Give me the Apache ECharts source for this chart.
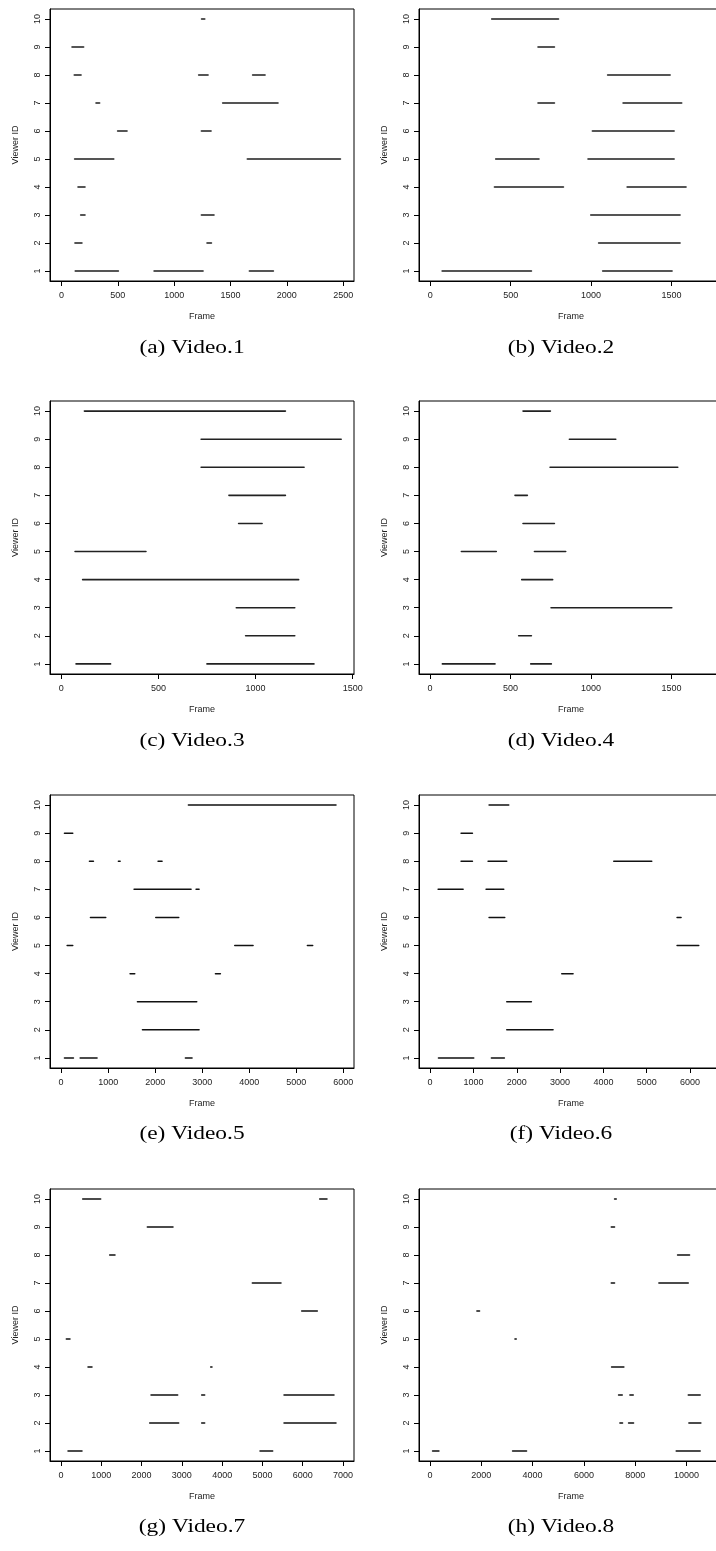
<!DOCTYPE html>
<html><head><meta charset="utf-8">
<script src="https://cdn.jsdelivr.net/npm/echarts@6/dist/echarts.min.js"></script>
<style>html,body{margin:0;padding:0;background:#fff}#c{width:716px;height:1551px}</style>
</head><body><div id="c"></div>
<script>
// Segments: [viewerId, startFrame, endFrame]
const video1 = [[10,1245,1270],[9,95,195],[8,115,172],[8,1219,1299],[8,1698,1805],[7,308,337],[7,1432,1920],[6,500,580],[6,1243,1326],[5,118,462],[5,1651,2474],[4,148,207],[3,172,207],[3,1243,1352],[2,121,180],[2,1293,1329],[1,124,503],[1,823,1255],[1,1669,1879]];
const video2 = [[10,383,796],[9,671,771],[8,1104,1490],[7,671,771],[7,1200,1562],[6,1009,1515],[5,408,675],[5,982,1515],[4,400,827],[4,1225,1589],[3,999,1552],[2,1048,1552],[1,75,628],[1,1073,1502]];
const video3 = [[10,119,1154],[9,720,1441],[8,720,1250],[7,863,1154],[6,913,1034],[5,71,436],[4,110,1222],[3,901,1202],[2,949,1202],[1,76,254],[1,750,1301]];
const video4 = [[10,578,748],[9,866,1154],[8,746,1539],[7,528,605],[6,578,773],[5,195,412],[5,649,843],[4,570,762],[3,752,1502],[2,551,630],[1,77,404],[1,626,754]];
const video5 = [[10,2706,5844],[9,71,248],[8,602,687],[8,1218,1254],[8,2061,2146],[7,1551,2763],[7,2869,2933],[6,623,949],[6,2012,2501],[5,128,248],[5,3691,4080],[5,5235,5348],[4,1466,1566],[4,3280,3386],[3,1622,2883],[2,1729,2933],[1,71,262],[1,404,765],[1,2642,2784]];
const video6 = [[10,1361,1815],[9,715,977],[8,715,977],[8,1338,1769],[8,4238,5115],[7,185,762],[7,1292,1700],[6,1361,1723],[6,5700,5792],[5,5700,6200],[4,3038,3300],[3,1769,2338],[2,1769,2838],[1,192,1008],[1,1415,1715]];
const video7 = [[10,538,985],[10,6421,6603],[9,2143,2780],[8,1208,1340],[7,4749,5461],[6,5974,6363],[5,132,223],[4,670,769],[4,3715,3748],[3,2234,2896],[3,3492,3566],[3,5535,6776],[2,2201,2921],[2,3492,3566],[2,5535,6826],[1,174,521],[1,4940,5254]];
const video8 = [[10,7195,7260],[9,7065,7195],[8,9649,10117],[7,7065,7195],[7,8922,10065],[6,1831,1935],[5,3312,3364],[4,7078,7558],[3,7351,7494],[3,7792,7922],[3,10065,10532],[2,7403,7506],[2,7740,7935],[2,10091,10558],[1,104,351],[1,3221,3766],[1,9597,10532]];

const captions = ['(a) Video.1','(b) Video.2','(c) Video.3','(d) Video.4','(e) Video.5','(f) Video.6','(g) Video.7','(h) Video.8'];
const xTicks1 = [0,500,1000,1500,2000,2500];
const xTicks2 = [0,500,1000,1500];
const xTicks3 = [0,500,1000,1500];
const xTicks4 = [0,500,1000,1500];
const xTicks5 = [0,1000,2000,3000,4000,5000,6000];
const xTicks6 = [0,1000,2000,3000,4000,5000,6000];
const xTicks7 = [0,1000,2000,3000,4000,5000,6000,7000];
const xTicks8 = [0,2000,4000,6000,8000,10000];
const viewerTicks = [1,2,3,4,5,6,7,8,9,10];

const videos = [video1,video2,video3,video4,video5,video6,video7,video8];
const xTicks = [xTicks1,xTicks2,xTicks3,xTicks4,xTicks5,xTicks6,xTicks7,xTicks8];
const xRange = [[-102,2596],[-70,1820],[-58,1507],[-68,1820],[-236,6226],[-256,6760],[-273,7273],[-425,11420]];

const rowTop = [9, 401, 795, 1189];
const rowH = [272, 273, 273, 272];
const colLeft = [50, 419];
const captionY = [348, 741, 1134, 1527];
const captionX = [192, 561];
const lineColor = ['#555','#555','#222','#222','#111','#111','#111','#111'];
const lineW = [2,2,1.6,1.6,1.5,1.5,1.5,1.5];

const sans = 'Liberation Sans';
const plain = v => String(v);
const grids=[], xAxes=[], yAxes=[], series=[], graphics=[];
for (let i=0;i<8;i++){
  const r = Math.floor(i/2), c = i%2;
  grids.push({left:colLeft[c], top:rowTop[r], width:304, height:rowH[r], show:true, borderColor:'#000', borderWidth:1, outerBoundsMode:'none', containLabel:false});
  xAxes.push({gridIndex:i, type:'value', min:xRange[i][0], max:xRange[i][1],
    axisLine:{show:true, onZero:false, lineStyle:{color:'#000', width:1}}, splitLine:{show:false},
    axisTick:{show:true, length:5, customValues:xTicks[i], lineStyle:{color:'#000', width:1}},
    axisLabel:{customValues:xTicks[i], formatter:plain, margin:10, fontSize:9, color:'#222', fontFamily:sans},
    name:'Frame', nameLocation:'middle', nameGap:31, nameTextStyle:{fontSize:9, color:'#222', fontFamily:sans}});
  yAxes.push({gridIndex:i, type:'value', min:0.64, max:10.36,
    axisLine:{show:true, onZero:false, lineStyle:{color:'#000', width:1}}, splitLine:{show:false},
    axisTick:{show:true, length:5, customValues:viewerTicks, lineStyle:{color:'#000', width:1}},
    axisLabel:{customValues:viewerTicks, formatter:plain, rotate:90, margin:8, fontSize:9, color:'#222', fontFamily:sans},
    name:'Viewer ID', nameLocation:'middle', nameGap:30, nameRotate:90, nameTextStyle:{fontSize:9, color:'#222', fontFamily:sans}});
  const col = lineColor[i], w = lineW[i];
  series.push({type:'custom', xAxisIndex:i, yAxisIndex:i, data:videos[i],
    encode:{x:[1,2], y:0}, silent:true, animation:false,
    renderItem:function(params, api){
      const p1 = api.coord([api.value(1), api.value(0)]);
      const p2 = api.coord([api.value(2), api.value(0)]);
      return {type:'line', shape:{x1:p1[0],y1:p1[1],x2:p2[0],y2:p2[1]}, style:{stroke:col, lineWidth:w, lineCap:'round'}};
    }});
  graphics.push({type:'text', x:captionX[c], y:captionY[r], scaleX:1.3, originX:0, originY:0,
    style:{text:captions[i], fontSize:18, fontFamily:'Liberation Serif', fill:'#000', textAlign:'center', textVerticalAlign:'middle'}});
}
const chart = echarts.init(document.getElementById('c'), null, {renderer:'canvas'});
chart.setOption({animation:false, backgroundColor:'#fff', grid:grids, xAxis:xAxes, yAxis:yAxes, series:series, graphic:graphics});
</script></body></html>
